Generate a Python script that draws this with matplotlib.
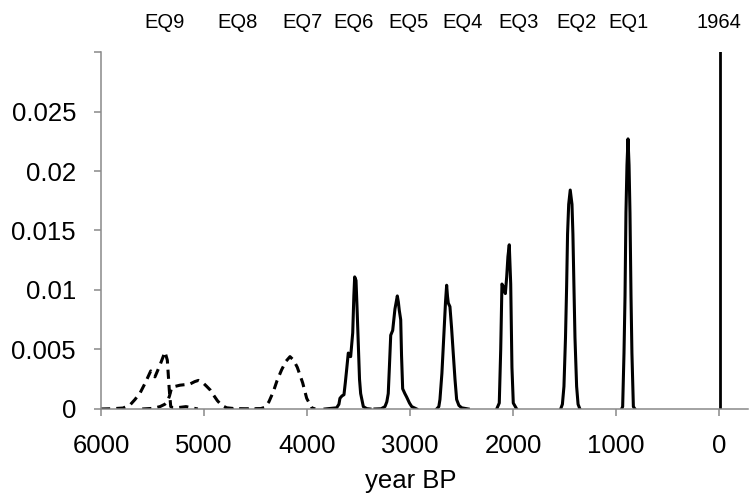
import matplotlib
matplotlib.use('Agg')
import matplotlib.pyplot as plt
import matplotlib.transforms as mtransforms

plt.rcParams['font.family'] = ['Liberation Sans', 'DejaVu Sans']

# probability density of each event age (year BP)
eq9_yr = [6000, 5900, 5786, 5718, 5670, 5621, 5570, 5517, 5476, 5427, 5379, 5356, 5337, 5323,
          5300, 5272, 5220, 5175, 5120, 5060]
eq9_p = [0, 0.00002, 0.00008, 0.00034, 0.0008, 0.00134, 0.0022, 0.0032, 0.0027, 0.0037, 0.0048,
         0.0041, 0.0016, 0.0002, 0.0001, 0.0001, 0.00015, 0.0002, 0.0001, 0]

eq8_yr = [5600, 5500, 5427, 5380, 5356, 5335, 5314, 5280, 5233, 5180, 5136, 5090, 5055, 5010,
          4974, 4940, 4910, 4870, 4828, 4780, 4700, 4600, 4500, 4440]
eq8_p = [0, 0.00005, 0.0002, 0.0004, 0.0006, 0.0011, 0.0018, 0.0019, 0.0020, 0.00205, 0.0021,
         0.0023, 0.0024, 0.0022, 0.0019, 0.0016, 0.0012, 0.0007, 0.0003, 0.0001, 0.00003, 0, 0, 0]

eq7_yr = [4800, 4600, 4450, 4408, 4370, 4327, 4290, 4246, 4205, 4165, 4130, 4094, 4042, 4003,
          3954, 3920]
eq7_p = [0, 0, 0.00003, 0.00014, 0.0006, 0.00145, 0.0024, 0.0033, 0.0040, 0.0044, 0.0041,
         0.0035, 0.0022, 0.0009, 0.0001, 0]

eq6_yr = [3825, 3712, 3690, 3680, 3660, 3641, 3628, 3615, 3599, 3588, 3576, 3556, 3545, 3537,
          3524, 3514, 3502, 3490, 3479, 3453, 3420, 3388]
eq6_p = [0, 0.0001, 0.0004, 0.0009, 0.0011, 0.0012, 0.0022, 0.0033, 0.0047, 0.0045, 0.0044,
         0.0064, 0.0095, 0.0111, 0.0108, 0.0085, 0.0055, 0.0025, 0.0013, 0.0002, 0.00003, 0]

eq5_yr = [3340, 3280, 3243, 3225, 3211, 3200, 3187, 3168, 3146, 3123, 3113, 3104, 3090, 3082,
          3071, 3050, 3032, 3005, 2983, 2935]
eq5_p = [0, 0.00002, 0.0002, 0.0006, 0.0013, 0.0035, 0.0062, 0.0066, 0.0084, 0.0095, 0.0090,
         0.0083, 0.0075, 0.0045, 0.0017, 0.0013, 0.0010, 0.0005, 0.0002, 0]

eq4_yr = [2741, 2720, 2709, 2690, 2670, 2655, 2644, 2636, 2628, 2612, 2596, 2580, 2563, 2547,
          2525, 2498, 2434]
eq4_p = [0, 0.0002, 0.0008, 0.0030, 0.0064, 0.0090, 0.0104, 0.0095, 0.0089, 0.0086, 0.0068,
         0.0047, 0.0025, 0.0008, 0.0003, 0.0001, 0]

eq3_yr = [2158, 2133, 2119, 2107, 2095, 2087, 2074, 2061, 2049, 2036, 2022, 2010, 1997, 1964]
eq3_p = [0, 0.0005, 0.0050, 0.0105, 0.0103, 0.0100, 0.0097, 0.0111, 0.0128, 0.0138, 0.0105,
         0.0035, 0.0005, 0]

eq2_yr = [1537, 1520, 1505, 1490, 1479, 1470, 1459, 1444, 1427, 1418, 1408, 1398, 1382, 1368, 1350]
eq2_p = [0, 0.0004, 0.0019, 0.0060, 0.0103, 0.0147, 0.0172, 0.0184, 0.0172, 0.0147, 0.0103,
         0.0060, 0.0019, 0.0004, 0]

eq1_yr = [945, 935, 922, 912, 903, 893, 883, 873, 864, 854, 845, 831, 816]
eq1_p = [0, 0.0002, 0.0047, 0.0095, 0.0165, 0.0205, 0.0227, 0.0205, 0.0165, 0.0095, 0.0047,
         0.0002, 0]

yr_1964 = -14

top_labels = ['EQ9', 'EQ8', 'EQ7', 'EQ6', 'EQ5', 'EQ4', 'EQ3', 'EQ2', 'EQ1', '1964']
top_label_x = [5379, 4670, 4039, 3544, 3019, 2485, 1942, 1388, 883, 0]

gray = '#898989'

fig = plt.figure(figsize=(7.51, 5.03), dpi=100)
ax = fig.add_axes([0.1345, 0.1869, 0.8615, 0.7097])

dash = dict(color='black', lw=2.2, ls=(0, (3, 2)))
solid = dict(color='black', lw=2.2)
ax.plot(eq9_yr, eq9_p, **dash)
ax.plot(eq8_yr, eq8_p, **dash)
ax.plot(eq7_yr, eq7_p, **dash)
for yr, p in [(eq6_yr, eq6_p), (eq5_yr, eq5_p), (eq4_yr, eq4_p), (eq3_yr, eq3_p),
              (eq2_yr, eq2_p), (eq1_yr, eq1_p)]:
    ax.plot(yr, p, **solid)
ax.plot([yr_1964, yr_1964], [0, 0.03], color='black', lw=2.0)

ax.set_xlim(6000, -282)
ax.set_ylim(0, 0.03)
ax.set_xticks([6000, 5000, 4000, 3000, 2000, 1000, 0])
ax.set_yticks([0, 0.005, 0.01, 0.015, 0.02, 0.025, 0.03])
ax.set_yticklabels(['0', '0.005', '0.01', '0.015', '0.02', '0.025', ''])

for s in ['top', 'right']:
    ax.spines[s].set_visible(False)
for s in ['left', 'bottom']:
    ax.spines[s].set_color(gray)
    ax.spines[s].set_linewidth(1.1)
ax.tick_params(direction='out', length=5, width=1.1, color=gray, labelsize=18.5, pad=13)

ax.set_xlabel('year BP', fontsize=18.5)
ax.xaxis.set_label_coords(0.478, -0.168)
ax.xaxis.label.set_va('top')

trans = mtransforms.blended_transform_factory(ax.transData, ax.transAxes)
for lab, x in zip(top_labels, top_label_x):
    ax.text(x, 1.084, lab, transform=trans, ha='center', va='center', fontsize=14.5)

fig.savefig('out.png', dpi=100)
